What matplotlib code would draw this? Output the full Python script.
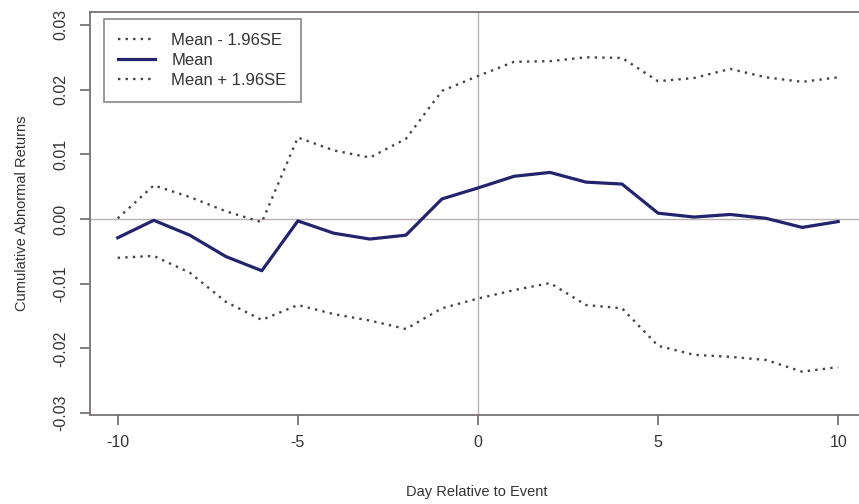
import matplotlib
matplotlib.use('Agg')
import matplotlib.pyplot as plt

plt.rcParams['font.family'] = ['Liberation Sans', 'DejaVu Sans']

# cumulative abnormal returns around the event
days = list(range(-10, 11))
car_mean = [-0.0029, -0.0002, -0.0025, -0.0058, -0.0080, -0.0003, -0.0022,
            -0.0031, -0.0025, 0.0031, 0.0048, 0.0066, 0.0072, 0.0057,
            0.0054, 0.0009, 0.0003, 0.0007, 0.0001, -0.0013, -0.0004]
car_upper = [0.0001, 0.0052, 0.0034, 0.0012, -0.0005, 0.0126, 0.0106,
             0.0095, 0.0124, 0.0198, 0.0221, 0.0243, 0.0244, 0.0250,
             0.0249, 0.0213, 0.0218, 0.0232, 0.0219, 0.0212, 0.0219]
car_lower = [-0.0060, -0.0057, -0.0083, -0.0128, -0.0156, -0.0133, -0.0147,
             -0.0157, -0.0170, -0.0138, -0.0123, -0.0110, -0.0099, -0.0133,
             -0.0138, -0.0196, -0.0210, -0.0213, -0.0218, -0.0236, -0.0229]

x_ticks = [-10, -5, 0, 5, 10]
y_ticks = [-0.03, -0.02, -0.01, 0.00, 0.01, 0.02, 0.03]

frame_col = '#7a7272'
text_col = '#333333'
dot_col = '#4a4242'
mean_col = '#23236e'
ref_col = '#b8b2b2'

fig = plt.figure(figsize=(8.59, 5.04), dpi=100)
# right edge of the box sits just outside the picture, as in the reference
ax = fig.add_axes([90 / 859, 89 / 504, 777 / 859, 403 / 504])

ax.axhline(0, color=ref_col, lw=1.0, zorder=1)
ax.axvline(0, color=ref_col, lw=1.0, zorder=1)

dotted = (0, (1, 2.2))
ax.plot(days, car_lower, color=dot_col, lw=1.7, ls=dotted, label='Mean - 1.96SE', zorder=3)
ax.plot(days, car_mean, color=mean_col, lw=2.3, label='Mean', zorder=4)
ax.plot(days, car_upper, color=dot_col, lw=1.7, ls=dotted, label='Mean + 1.96SE', zorder=3)

ax.set_xlim(-10.77, 10.8)
ax.set_ylim(-0.0303, 0.0320)
ax.set_xticks(x_ticks)
ax.set_xticklabels([str(t) for t in x_ticks])
ax.set_yticks(y_ticks)
ax.set_yticklabels(['%.2f' % t for t in y_ticks], rotation=90, va='center')

for s in ax.spines.values():
    s.set_color(frame_col)
    s.set_linewidth(1.3)
ax.tick_params(axis='both', colors=frame_col, labelcolor=text_col,
               length=7.5, width=1.3, labelsize=11.5)
ax.tick_params(axis='x', pad=7)
ax.tick_params(axis='y', pad=8)

ax.set_xlabel('Day Relative to Event', fontsize=10.5, color=text_col)
ax.set_ylabel('Cumulative Abnormal Returns', fontsize=10.5, color=text_col)
ax.xaxis.set_label_coords(387 / 777, -0.174)
ax.yaxis.set_label_coords(-0.079, 0.5)

leg = ax.legend(loc='upper left', bbox_to_anchor=(0.018, 0.983), borderaxespad=0,
                fontsize=12, fancybox=False, handlelength=2.2, handletextpad=1.0,
                labelspacing=0.3, borderpad=0.85, frameon=True)
leg.get_frame().set_edgecolor(frame_col)
leg.get_frame().set_linewidth(1.3)
for t in leg.get_texts():
    t.set_color(text_col)

fig.savefig('out.png', dpi=100, facecolor='white')
